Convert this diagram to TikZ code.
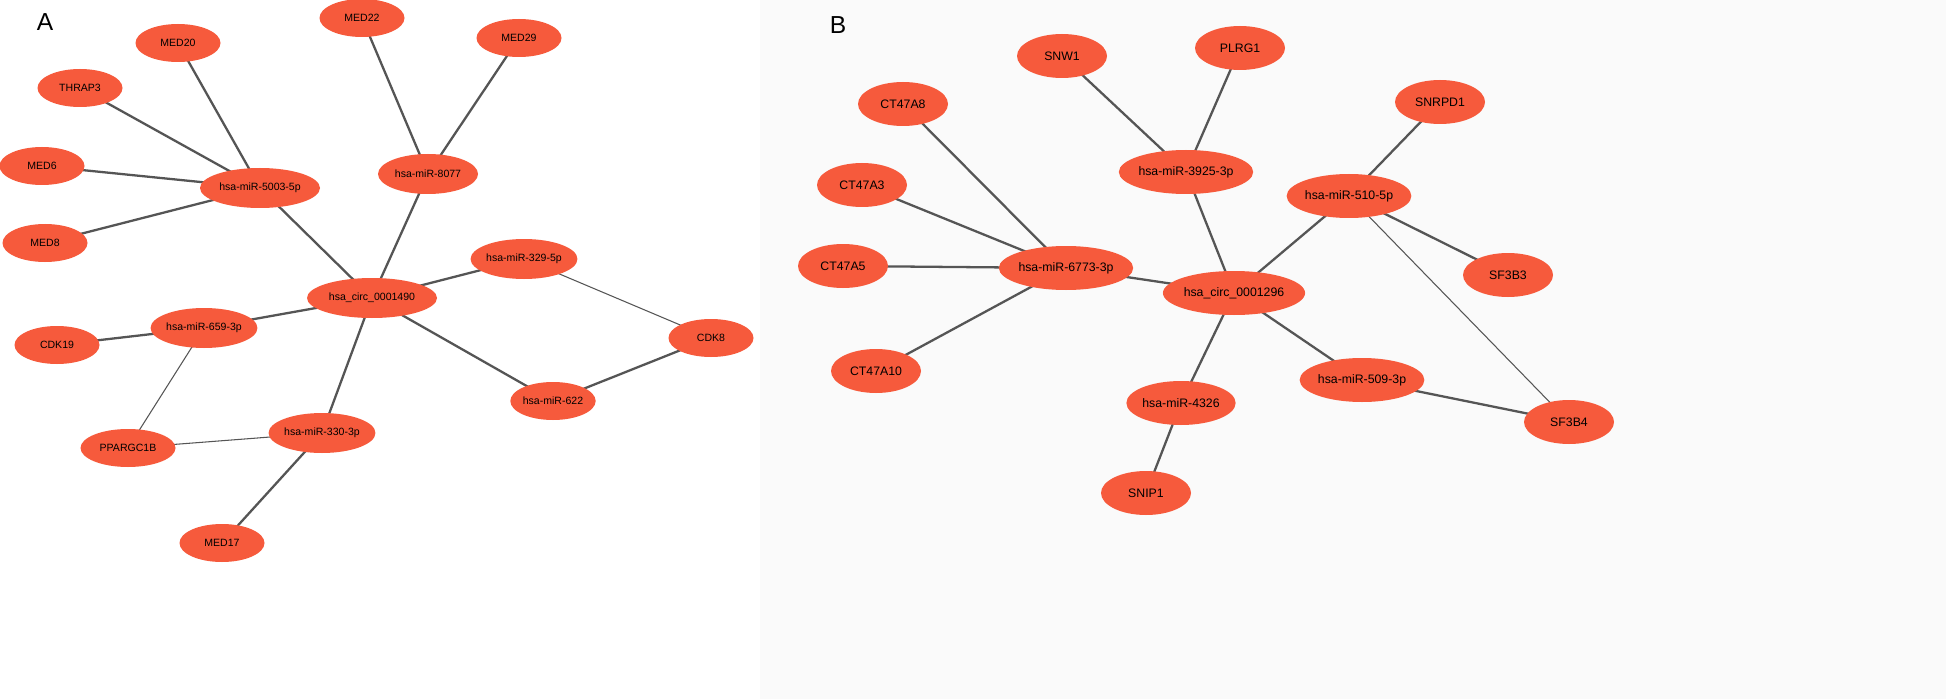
\documentclass[tikz,border=0pt]{standalone}
\usepackage{fontspec}
\setmainfont{Liberation Sans}
\usetikzlibrary{shapes.geometric,backgrounds}
\definecolor{nodeorange}{HTML}{F65A3C}
\definecolor{edgegray}{HTML}{555555}
\tikzset{
 nd/.style={ellipse,fill=nodeorange,inner sep=0pt,minimum width=85*0.02cm,minimum height=38*0.02cm,font=\fontsize{6}{7}\selectfont},
 ndw/.style={nd,minimum width=120*0.02cm,minimum height=40*0.02cm},
 ndb/.style={nd,minimum width=90*0.02cm,minimum height=44*0.02cm,font=\fontsize{7}{8}\selectfont},
 ndbw/.style={ndb,minimum width=120*0.02cm,minimum height=44*0.02cm},
 ed/.style={draw=edgegray,line width=1.3pt},
 edt/.style={draw=edgegray,line width=0.6pt},
}
\begin{document}
\begin{tikzpicture}[x=0.02cm,y=-0.02cm]
\useasboundingbox (0,0) rectangle (1946,699);
\node[font=\fontsize{14}{16}\selectfont\rmfamily] (LA) at (45,22) {A};
\node[font=\fontsize{14}{16}\selectfont\rmfamily] (LB) at (838,25) {B};
% Panel A
\node[nd] (med22) at (362,18) {MED22};
\node[nd] (med29) at (519,38) {MED29};
\node[nd] (med20) at (178,43) {MED20};
\node[nd] (thrap3) at (80,88) {THRAP3};
\node[nd] (med6) at (42,166) {MED6};
\node[ndw] (m5003) at (260,188) {hsa-miR-5003-5p};
\node[ndw,minimum width=100*0.02cm] (m8077) at (428,174) {hsa-miR-8077};
\node[nd] (med8) at (45,243) {MED8};
\node[ndw,minimum width=130*0.02cm] (circA) at (372,298) {hsa\_circ\_0001490};
\node[ndw,minimum width=105*0.02cm] (m329) at (524,259) {hsa-miR-329-5p};
\node[nd] (cdk8) at (711,338) {CDK8};
\node[nd] (cdk19) at (57,345) {CDK19};
\node[ndw,minimum width=105*0.02cm] (m659) at (204,328) {hsa-miR-659-3p};
\node[nd] (m622) at (553,401) {hsa-miR-622};
\node[nd,minimum width=95*0.02cm] (ppar) at (128,448) {PPARGC1B};
\node[ndw,minimum width=105*0.02cm] (m330) at (322,433) {hsa-miR-330-3p};
\node[nd] (med17) at (222,543) {MED17};
% Panel B
\node[ndb] (plrg1) at (1240,48) {PLRG1};
\node[ndb] (snw1) at (1062,56) {SNW1};
\node[ndb] (ct8) at (903,104) {CT47A8};
\node[ndb] (snrpd1) at (1440,102) {SNRPD1};
\node[ndbw] (m3925) at (1186,172) {hsa-miR-3925-3p};
\node[ndb] (ct3) at (862,185) {CT47A3};
\node[ndbw,minimum width=110*0.02cm] (m510) at (1349,196) {hsa-miR-510-5p};
\node[ndb] (sf3b3) at (1508,275) {SF3B3};
\node[ndb] (ct5) at (843,266) {CT47A5};
\node[ndbw] (m6773) at (1066,268) {hsa-miR-6773-3p};
\node[ndbw] (circB) at (1234,293) {hsa\_circ\_0001296};
\node[ndb] (ct10) at (876,371) {CT47A10};
\node[ndbw,minimum width=110*0.02cm] (m509) at (1362,380) {hsa-miR-509-3p};
\node[ndb] (m4326) at (1181,403) {hsa-miR-4326};
\node[ndb] (sf3b4) at (1569,422) {SF3B4};
\node[ndb] (snip1) at (1146,493) {SNIP1};
\begin{scope}[on background layer]
\fill[white] (0,0) rectangle (1946,699);
\fill[black!2] (760,0) rectangle (1946,699);
\foreach \a/\b in {med22/m8077,med29/m8077,m8077/circA,med20/m5003,thrap3/m5003,med6/m5003,med8/m5003,m5003/circA,circA/m329,circA/m622,m622/cdk8,circA/m659,cdk19/m659,circA/m330,m330/med17,
 snw1/m3925,plrg1/m3925,m3925/circB,ct8/m6773,ct3/m6773,ct5/m6773,ct10/m6773,m6773/circB,circB/m510,snrpd1/m510,m510/sf3b3,circB/m509,m509/sf3b4,circB/m4326,m4326/snip1}
 \draw[ed] (\a.center) -- (\b.center);
\foreach \a/\b in {m329/cdk8,m659/ppar,ppar/m330,m510/sf3b4}
 \draw[edt] (\a.center) -- (\b.center);
\end{scope}
\end{tikzpicture}
\end{document}
